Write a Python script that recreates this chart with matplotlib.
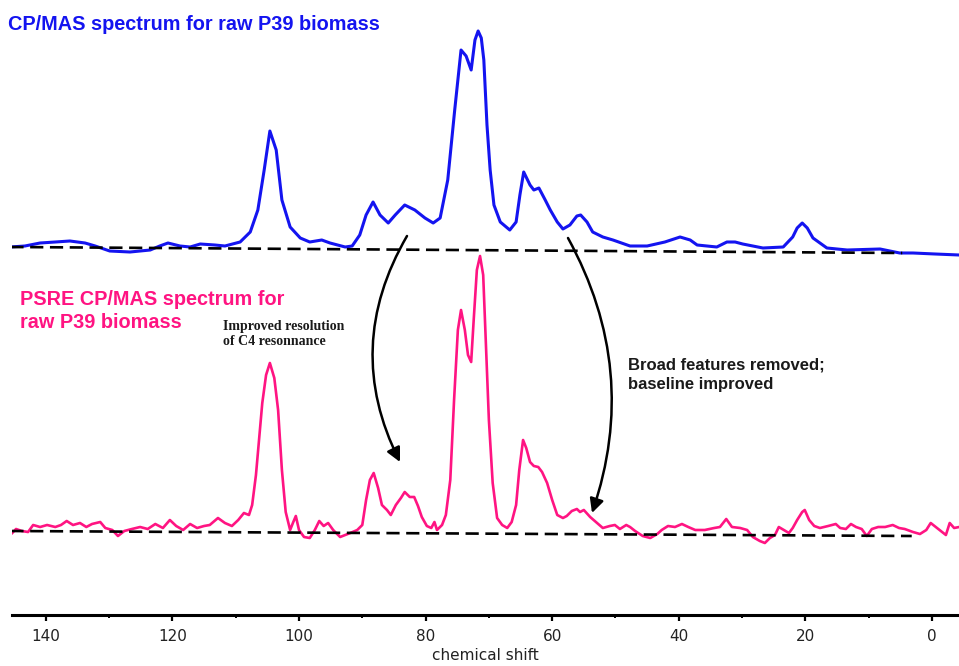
import matplotlib.pyplot as plt
from matplotlib.ticker import MultipleLocator

# CP/MAS spectrum (ppm, intensity above its baseline)
blue_ppm = [145.6, 143.3, 140.9, 138.5, 136.2, 133.8, 132.2, 129.9, 126.7, 123.5,
            122.0, 120.7, 118.8, 117.2, 115.6, 113.3, 111.7, 109.3, 107.7, 106.5,
            105.5, 104.6, 103.6, 102.7, 101.4, 99.8, 98.3, 96.4, 95.1, 92.7,
            91.6, 90.4, 89.4, 88.3, 87.2, 85.9, 84.8, 83.3, 81.7, 80.1,
            78.8, 77.7, 76.5, 75.4, 74.4, 73.6, 72.8, 72.2, 71.7, 71.2,
            70.8, 70.3, 69.8, 69.2, 68.2, 66.7, 65.7, 65.1, 64.5, 63.5,
            62.9, 62.1, 61.1, 60.3, 59.2, 58.3, 57.2, 56.1, 55.5, 54.5,
            53.6, 52.0, 50.4, 47.7, 45.0, 42.2, 39.8, 38.2, 37.1, 34.0,
            32.4, 31.1, 29.9, 26.7, 23.5, 22.0, 21.3, 20.5, 19.7, 18.8,
            16.6, 13.4, 8.2, 5.1, 3.0, -0.5, -4.3]
blue_int = [1, 2, 5, 6, 7, 5, 2, -3, -4, -2,
            2, 5, 2, 1, 4, 3, 2, 6, 16, 38,
            78, 117, 98, 48, 21, 10, 6, 8, 5, 1,
            2, 13, 33, 46, 33, 25, 33, 43, 38, 30,
            25, 30, 68, 138, 198, 192, 178, 208, 217, 210,
            188, 123, 78, 43, 26, 18, 26, 53, 76, 63,
            58, 60, 48, 38, 26, 19, 23, 32, 33, 26,
            16, 11, 8, 2, 2, 6, 11, 8, 3, 1,
            6, 6, 4, 0, 1, 11, 20, 25, 20, 10,
            0, -2, -1, -5, -5, -6, -7]

# PSRE CP/MAS spectrum (ppm, intensity above its baseline)
pink_ppm = [145.3, 144.7, 143.8, 142.8, 142.0, 140.9, 139.8, 138.5, 137.6, 136.7,
            135.7, 134.6, 133.6, 132.7, 131.4, 130.6, 129.5, 128.6, 127.6, 126.4,
            125.1, 123.9, 122.7, 121.5, 120.4, 119.4, 118.3, 117.2, 116.1, 115.0,
            114.1, 112.8, 111.7, 110.6, 109.6, 108.7, 107.9, 107.4, 106.8, 105.8,
            105.2, 104.6, 103.9, 103.3, 102.7, 102.1, 101.4, 100.9, 100.5, 100.0,
            99.2, 98.3, 97.5, 96.8, 96.1, 95.4, 94.6, 93.5, 91.9, 90.8,
            90.0, 89.4, 88.8, 88.2, 87.5, 86.9, 86.1, 85.5, 84.7, 83.9,
            83.3, 82.5, 81.8, 81.2, 80.6, 79.8, 79.1, 78.6, 78.2, 77.4,
            76.8, 76.1, 75.5, 74.9, 74.4, 73.8, 73.3, 72.8, 72.4, 71.9,
            71.4, 70.9, 70.5, 70.0, 69.4, 68.7, 67.9, 67.1, 66.4, 65.7,
            65.2, 64.6, 64.1, 63.5, 62.9, 62.2, 61.6, 60.8, 60.0, 59.2,
            58.3, 57.7, 56.9, 56.1, 55.6, 55.0, 54.0, 52.9, 52.0, 50.9,
            50.1, 49.3, 48.3, 47.7, 46.9, 45.7, 44.5, 43.4, 42.7, 41.7,
            40.6, 39.5, 38.5, 37.4, 35.9, 34.4, 33.5, 32.5, 31.6, 30.3,
            29.2, 28.3, 27.2, 26.4, 25.6, 24.8, 24.2, 23.4, 22.6, 22.0,
            21.3, 20.5, 20.1, 19.4, 18.6, 17.7, 16.4, 15.2, 14.5, 13.6,
            12.8, 12.0, 11.1, 10.3, 9.5, 8.5, 7.4, 6.2, 5.2, 4.3,
            3.0, 1.9, 0.9, 0.2, -0.6, -1.4, -2.2, -2.8, -3.5, -4.3]
pink_int = [0, 4, 2, 1, 8, 6, 8, 6, 8, 12,
            8, 10, 6, 9, 11, 5, 3, -3, 2, 4,
            6, 4, 9, 5, 13, 7, 3, 9, 5, 7,
            8, 15, 10, 7, 13, 20, 18, 28, 58, 130,
            158, 170, 155, 123, 63, 21, 3, 11, 17, 3,
            -4, -5, 3, 12, 7, 10, 3, -4, 0, 3,
            8, 33, 53, 60, 45, 28, 23, 18, 28, 35,
            41, 36, 36, 27, 16, 7, 5, 11, 3, 8,
            18, 53, 133, 203, 223, 203, 178, 171, 213, 263,
            277, 258, 193, 113, 50, 15, 8, 5, 11, 28,
            63, 93, 85, 71, 67, 66, 61, 50, 33, 18,
            15, 17, 22, 24, 21, 23, 16, 10, 5, 7,
            8, 4, 8, 6, 2, -3, -5, -1, 3, 7,
            6, 9, 6, 3, 3, 5, 6, 14, 6, 5,
            3, -4, -8, -10, -5, -2, 6, 3, 0, 5,
            13, 21, 23, 13, 7, 5, 7, 9, 5, 4,
            9, 6, 4, -3, 4, 6, 6, 8, 5, 4,
            1, -1, 3, 10, 6, 2, -2, 10, 5, 6]

# dashed reference baselines (ppm ends, intensity ends)
blue_base_ppm = [145.6, 4.7]
blue_base_int = [1, -5]
pink_base_ppm = [145.6, 3.2]
pink_base_int = [2, -3]

blue_offset = 367
pink_offset = 82
blue = '#1414f0'
pink = '#ff1482'

W, H = 959, 666
fig = plt.figure(figsize=(W / 100, H / 100), dpi=100)
ax = fig.add_axes([12 / W, 51 / H, 947 / W, 615 / H])

ax.plot(blue_ppm, [v + blue_offset for v in blue_int], color=blue, lw=2.2,
        solid_joinstyle='round')
ax.plot(pink_ppm, [v + pink_offset for v in pink_int], color=pink, lw=1.9,
        solid_joinstyle='round')
ax.plot(blue_base_ppm, [v + blue_offset for v in blue_base_int], color='black',
        lw=1.9, dashes=(5, 2.5), zorder=3)
ax.plot(pink_base_ppm, [v + pink_offset for v in pink_base_int], color='black',
        lw=1.9, dashes=(5, 2.5), zorder=3)

ax.set_xlim(145.34, -4.27)
ax.set_ylim(0, 615)
for s in ['top', 'right', 'left']:
    ax.spines[s].set_visible(False)
ax.spines['bottom'].set_linewidth(2.2)
ax.set_yticks([])
ax.xaxis.set_major_locator(MultipleLocator(20))
ax.xaxis.set_minor_locator(MultipleLocator(10))
ax.tick_params(axis='x', which='major', length=4, width=1.6, labelsize=11,
               labelcolor='#222222', pad=6)
ax.tick_params(axis='x', which='minor', length=2, width=1.4)
ax.set_xlabel('chemical shift', fontsize=11, color='#222222', labelpad=3)


def fx(x):
    return x / W


def fy(y):
    return 1 - y / H


fig.text(fx(8), fy(15), 'CP/MAS spectrum for raw P39 biomass', color=blue,
         fontsize=14.3, fontweight='bold', family='Liberation Sans', va='top')
fig.text(fx(20), fy(290), 'PSRE CP/MAS spectrum for', color=pink,
         fontsize=14.3, fontweight='bold', family='Liberation Sans', va='top')
fig.text(fx(20), fy(313), 'raw P39 biomass', color=pink,
         fontsize=14.3, fontweight='bold', family='Liberation Sans', va='top')
fig.text(fx(223), fy(320), 'Improved resolution\nof C4 resonnance', color='#1a1a1a',
         fontsize=10, fontweight='bold', family='Liberation Serif', va='top')
fig.text(fx(628), fy(358), 'Broad features removed;\nbaseline improved', color='#1a1a1a',
         fontsize=12, fontweight='bold', family='Liberation Sans', va='top',
         linespacing=1.3)

arrow = dict(arrowstyle='-|>,head_length=0.6,head_width=0.3', color='black',
             lw=1.8, mutation_scale=14, shrinkA=0, shrinkB=0)
ax.annotate('', xy=(fx(400), fy(462)), xytext=(fx(407), fy(236)),
            xycoords='figure fraction', textcoords='figure fraction',
            arrowprops=dict(arrow, connectionstyle='arc3,rad=0.27'))
ax.annotate('', xy=(fx(592), fy(513)), xytext=(fx(568), fy(238)),
            xycoords='figure fraction', textcoords='figure fraction',
            arrowprops=dict(arrow, connectionstyle='arc3,rad=-0.22'))

fig.savefig('out.png', dpi=100)
